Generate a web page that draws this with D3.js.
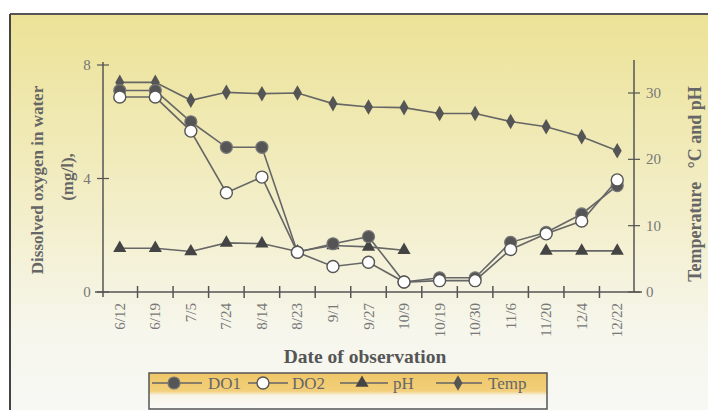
<!DOCTYPE html>
<html>
<head>
<meta charset="utf-8">
<script src="https://cdn.jsdelivr.net/npm/d3@7"></script>
<style>
  body { margin: 0; background: #fff; }
  svg { display: block; font-family: "Liberation Serif", "Times New Roman", serif; }
</style>
</head>
<body>
<svg id="canvas"></svg>
<script>
const width = 708;
const height = 410;

const dates = ["6/12", "6/19", "7/5", "7/24", "8/14", "8/23", "9/1", "9/27",
  "10/9", "10/19", "10/30", "11/6", "11/20", "12/4", "12/22"];
const do1 = [7.1, 7.1, 6.0, 5.1, 5.1, 1.4, 1.7, 1.95, 0.35, 0.5, 0.5, 1.75, 2.1, 2.75, 3.75];
const do2 = [6.87, 6.87, 5.67, 3.5, 4.05, 1.4, 0.9, 1.05, 0.35, 0.4, 0.4, 1.5, 2.05, 2.5, 3.95];
const ph = [6.6, 6.6, 6.1, 7.4, 7.3, 6.1, 7.0, 6.8, 6.3, null, null, null, 6.2, 6.2, 6.2];
const temp = [31.6, 31.6, 28.9, 30.1, 29.9, 30.0, 28.4, 27.9, 27.8, 26.9, 26.9, 25.7, 24.9, 23.4, 21.3];

const leftTicks = [0, 4, 8];
const rightTicks = [0, 10, 20, 30];

const svg = d3.select("#canvas").attr("width", width).attr("height", height);

// background: yellow fading to white
const defs = svg.append("defs");
const bg = defs.append("linearGradient").attr("id", "bg")
  .attr("x1", 0).attr("y1", 0).attr("x2", 0).attr("y2", 1);
bg.append("stop").attr("offset", "0%").attr("stop-color", "#ece296");
bg.append("stop").attr("offset", "45%").attr("stop-color", "#f2edc4");
bg.append("stop").attr("offset", "80%").attr("stop-color", "#f6f6ec");
bg.append("stop").attr("offset", "100%").attr("stop-color", "#f7f8f4");

const lg = defs.append("linearGradient").attr("id", "lg")
  .attr("x1", 0).attr("y1", 0).attr("x2", 0).attr("y2", 1);
lg.append("stop").attr("offset", "0%").attr("stop-color", "#efc769");
lg.append("stop").attr("offset", "50%").attr("stop-color", "#f3cf7a");
lg.append("stop").attr("offset", "62%").attr("stop-color", "#f7f3e6");
lg.append("stop").attr("offset", "100%").attr("stop-color", "#fbfbf8");

svg.append("rect").attr("x", 10).attr("y", 14).attr("width", width - 10).attr("height", height - 14)
  .attr("fill", "url(#bg)");
svg.append("line").attr("x1", 10).attr("x2", width).attr("y1", 14).attr("y2", 14)
  .attr("stroke", "#555").attr("stroke-width", 2);
svg.append("line").attr("x1", 10).attr("x2", 10).attr("y1", 14).attr("y2", height)
  .attr("stroke", "#444").attr("stroke-width", 2);

const x = d3.scaleBand().domain(dates).range([102, 635]);
const yL = d3.scaleLinear().domain([0, 8]).range([292, 65]);
const yR = d3.scaleLinear().domain([0, 30]).range([292, 93]);

const axisColor = "#555";
const labelColor = "#777";

// bottom axis with ticks at band boundaries
svg.append("line").attr("x1", 95).attr("x2", 642).attr("y1", 292).attr("y2", 292)
  .attr("stroke", axisColor).attr("stroke-width", 1.5);
svg.append("g").selectAll("line")
  .data(dates.slice(1))
  .join("line")
  .attr("x1", (d) => x(d)).attr("x2", (d) => x(d))
  .attr("y1", 286).attr("y2", 298)
  .attr("stroke", axisColor).attr("stroke-width", 1.5);
svg.append("g").selectAll("text")
  .data(dates)
  .join("text")
  .attr("transform", (d) => `translate(${x(d) + x.bandwidth() / 2 + 5},303) rotate(-90)`)
  .attr("text-anchor", "end")
  .attr("font-size", 15)
  .attr("fill", labelColor)
  .text((d) => d);

// left axis
svg.append("line").attr("x1", 103).attr("x2", 103).attr("y1", 62).attr("y2", 297)
  .attr("stroke", axisColor).attr("stroke-width", 1.5);
svg.append("g").selectAll("line")
  .data(leftTicks)
  .join("line")
  .attr("x1", 97).attr("x2", 109)
  .attr("y1", (d) => yL(d)).attr("y2", (d) => yL(d))
  .attr("stroke", axisColor).attr("stroke-width", 1.2);
svg.append("g").selectAll("text")
  .data(leftTicks)
  .join("text")
  .attr("x", 87).attr("y", (d) => yL(d) + 5)
  .attr("text-anchor", "middle")
  .attr("font-size", 15)
  .attr("fill", labelColor)
  .text((d) => d);

// right axis
svg.append("line").attr("x1", 634).attr("x2", 634).attr("y1", 60).attr("y2", 292)
  .attr("stroke", axisColor).attr("stroke-width", 1.5);
svg.append("g").selectAll("line")
  .data(rightTicks)
  .join("line")
  .attr("x1", 628).attr("x2", 640)
  .attr("y1", (d) => yR(d)).attr("y2", (d) => yR(d))
  .attr("stroke", axisColor).attr("stroke-width", 1.2);
svg.append("g").selectAll("text")
  .data(rightTicks)
  .join("text")
  .attr("x", 646).attr("y", (d) => yR(d) + 5)
  .attr("text-anchor", "start")
  .attr("font-size", 15)
  .attr("fill", labelColor)
  .text((d) => d);

// axis titles
svg.append("text")
  .attr("transform", "translate(43,180) rotate(-90)")
  .attr("text-anchor", "middle")
  .attr("font-size", 17).attr("font-weight", "bold").attr("fill", "#666")
  .text("Dissolved oxygen in water");
svg.append("text")
  .attr("transform", "translate(73,177) rotate(-90)")
  .attr("text-anchor", "middle")
  .attr("font-size", 17).attr("font-weight", "bold").attr("fill", "#666")
  .text("(mg/l),");
svg.append("text")
  .attr("transform", "translate(701,184) rotate(-90)")
  .attr("text-anchor", "middle")
  .attr("font-size", 18).attr("font-weight", "bold").attr("fill", "#666")
  .style("white-space", "pre")
  .text("Temperature   °C and pH");
svg.append("text")
  .attr("x", 365).attr("y", 363)
  .attr("text-anchor", "middle")
  .attr("font-size", 19.5).attr("font-weight", "bold").attr("fill", "#555")
  .text("Date of observation");

// series
const cx = (d) => x(d) + x.bandwidth() / 2;
const lineColor = "#666";

function drawSeries(values, yScale, marker) {
  const pts = dates.map((d, i) => ({ d, v: values[i] }));
  const line = d3.line()
    .defined((p) => p.v != null)
    .x((p) => cx(p.d))
    .y((p) => yScale(p.v));
  svg.append("path").datum(pts)
    .attr("d", line)
    .attr("fill", "none")
    .attr("stroke", lineColor)
    .attr("stroke-width", 1.6);
  const g = svg.append("g");
  pts.filter((p) => p.v != null).forEach((p) => {
    marker(g, cx(p.d), yScale(p.v));
  });
}

const filledCircle = (g, px, py) => g.append("circle").attr("cx", px).attr("cy", py).attr("r", 6)
  .attr("fill", "#555").attr("stroke", "#777").attr("stroke-width", 1.2);
const openCircle = (g, px, py) => g.append("circle").attr("cx", px).attr("cy", py).attr("r", 6)
  .attr("fill", "#fff").attr("stroke", "#555").attr("stroke-width", 1.4);
const triangle = (g, px, py) => g.append("path")
  .attr("d", d3.symbol(d3.symbolTriangle, 75)())
  .attr("transform", `translate(${px},${py})`)
  .attr("fill", "#444");
const diamond = (g, px, py) => g.append("path")
  .attr("d", d3.symbol(d3.symbolDiamond, 70)())
  .attr("transform", `translate(${px},${py})`)
  .attr("fill", "#555");

drawSeries(temp, yR, diamond);
drawSeries(ph, yR, triangle);
drawSeries(do1, yL, filledCircle);
drawSeries(do2, yL, openCircle);

// legend
const legend = svg.append("g");
legend.append("rect").attr("x", 149).attr("y", 373).attr("width", 398).attr("height", 36)
  .attr("fill", "url(#lg)").attr("stroke", "#555").attr("stroke-width", 1.5);
const legendItems = [
  { name: "DO1", marker: filledCircle, x0: 152, x1: 202, mx: 174, tx: 208 },
  { name: "DO2", marker: openCircle, x0: 248, x1: 288, mx: 263, tx: 292 },
  { name: "pH", marker: triangle, x0: 340, x1: 388, mx: 362, tx: 393 },
  { name: "Temp", marker: diamond, x0: 436, x1: 482, mx: 458, tx: 488 }
];
legendItems.forEach((it) => {
  legend.append("line").attr("x1", it.x0).attr("x2", it.x1).attr("y1", 383).attr("y2", 383)
    .attr("stroke", lineColor).attr("stroke-width", 1.6);
  it.marker(legend, it.mx, 383);
  legend.append("text").attr("x", it.tx).attr("y", 389)
    .attr("font-size", 17).attr("fill", "#666")
    .text(it.name);
});
</script>
</body>
</html>
